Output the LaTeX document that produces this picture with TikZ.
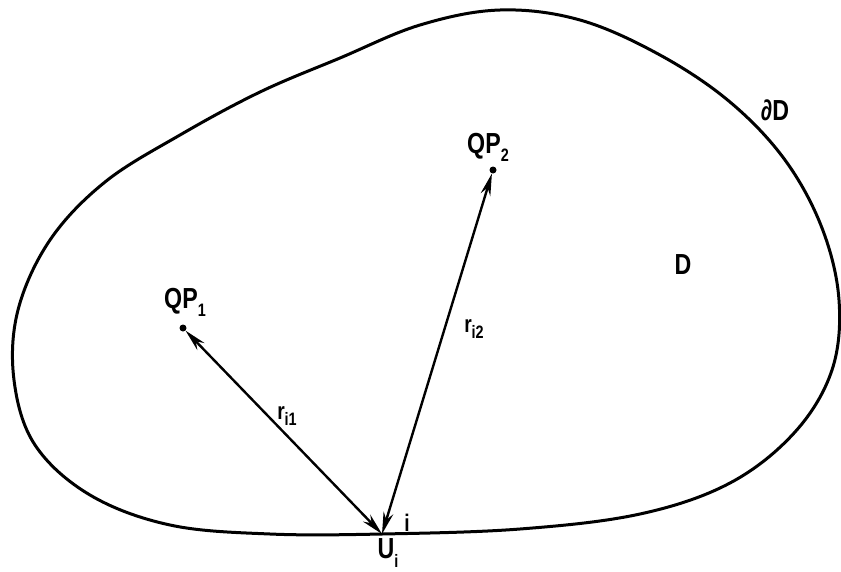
\documentclass[tikz,border=0pt]{standalone}
\usepackage{fontspec}
\newfontfamily\lab{Liberation Sans}[FakeStretch=0.8]
\usetikzlibrary{arrows.meta}
\newcommand\lsub[1]{\raisebox{-0.28em}{\fontsize{18}{18}\selectfont #1}}
\begin{document}
\begin{tikzpicture}[x=1pt,y=-1pt,
  lbl/.style={inner sep=0pt, font=\lab\bfseries\fontsize{29}{29}\selectfont},
  sm/.style={inner sep=0pt, font=\lab\bfseries\fontsize{24}{24}\selectfont},
  pt/.style={circle, fill, inner sep=0pt, minimum size=7pt},
  vec/.style={line width=2.4pt, {Stealth[length=22pt,width=10pt]}-{Stealth[length=22pt,width=10pt]}},
  bnd/.style={line width=3pt, line join=round}]
\useasboundingbox (0,0) rectangle (841,571);
\draw[bnd] plot[smooth cycle, tension=0.6] coordinates {
 (382,534) (520,529) (640,514) (730,483) (795,432) (832,370) (839,300)
 (822,228) (785,160) (730,102) (660,55) (580,20) (500,10) (420,25)
 (340,58) (260,92) (180,135) (105,182) (50,240) (18,310) (14,380)
 (35,445) (90,495) (170,525) (270,534)};
\node[pt] (q1) at (183,328) {};
\node[pt] (q2) at (493,170) {};
\coordinate (u) at (382,534);
\draw[vec] (q1) -- (u);
\draw[vec] (q2) -- (u);
\node[lbl] (lq1) at (185,302) {QP\lsub{1}};
\node[lbl] (lq2) at (488,147) {QP\lsub{2}};
\node[sm] (lr1) at (287,416) {r\lsub{i1}};
\node[sm] (lr2) at (474,329) {r\lsub{i2}};
\node[lbl] (ld) at (683,265) {D};
\node[lbl] (lbd) at (775,110) {∂D};
\node[lbl] (lu) at (388,553) {U\lsub{i}};
\node[sm] (li) at (407,523) {i};
\end{tikzpicture}
\end{document}
